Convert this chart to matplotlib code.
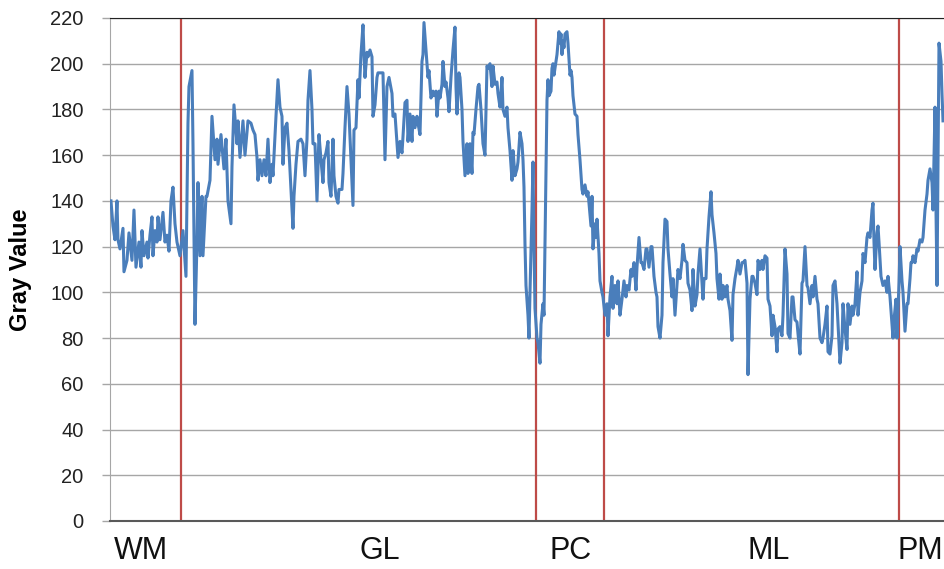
import matplotlib
matplotlib.use("Agg")
import matplotlib.pyplot as plt
import matplotlib.transforms as mtransforms

# profile position (pixels along the line) and gray value
position = [
    1, 3, 5, 7, 8, 10, 13, 14, 17, 19, 22, 24, 26, 29, 31, 32, 34, 37, 38, 40,
    42, 43, 45, 47, 48, 50, 53, 55, 57, 59, 61, 63, 65, 67, 70, 73, 76, 78, 79, 82,
    83, 85, 87, 88, 90, 92, 93, 96, 97, 100, 102, 105, 107, 108, 111, 114, 116, 118, 121, 122,
    124, 127, 128, 130, 133, 135, 138,
    141, 143, 145, 147, 148, 150, 152, 154, 156, 158, 160, 162, 163, 166, 168, 170, 172, 173, 175, 177,
    179, 181, 183, 184, 186, 188, 191, 193, 195, 197, 198, 200, 202, 203, 205, 207, 209, 211, 213, 214,
    216, 218, 219, 221, 223, 224, 226, 228, 229, 232, 233, 235, 237, 239, 241, 243, 244, 246, 248, 249,
    251, 253, 254, 255, 257, 258, 260, 262, 263, 265, 267, 268,
    270, 273, 275, 277, 279, 282, 283, 285, 287, 288, 290, 292, 293, 295, 297, 298, 300, 302, 303, 305,
    307, 308, 310, 312, 313, 314, 316, 318, 319, 321, 323, 324, 326, 327, 329, 330, 332, 333, 335, 336,
    338, 339, 341, 343, 345, 346, 347, 349, 350, 352, 353, 355, 357, 358, 360, 362, 363, 364, 366, 368,
    369, 371, 373, 375, 377, 378, 380, 382, 383, 385, 387, 388, 390, 392, 393, 395, 397, 398, 400, 402,
    403, 405, 407, 408, 410, 412, 413, 414, 415, 416, 418, 419,
    420, 422, 423, 424, 425, 427, 428, 430, 431, 433, 434, 435, 436, 437, 438, 439, 441, 442, 443, 444,
    446, 447, 449, 450, 451, 452, 453, 454, 455, 457, 458, 459, 460, 461, 462, 463, 465, 467, 468, 470,
    472, 473, 475, 477, 478, 479, 481, 482, 483, 485, 486, 487, 489, 490, 492, 493, 495, 497, 498, 500,
    502, 503, 505, 507, 508, 510, 512, 514, 516, 517, 519, 521, 522, 524, 526, 527, 529, 531, 532, 534,
    536, 537, 539, 541, 542, 544, 546, 547, 548,
    550, 552, 553, 555, 557, 558, 560, 562, 563, 565, 567, 568, 570, 572, 573, 575, 577, 578, 580, 582,
    583, 585, 587, 588, 590, 592, 593, 594, 596, 597, 599, 601, 602, 604, 606, 607, 609, 610, 612, 613,
    615, 617, 618, 620, 622, 623, 625, 627, 628, 630, 632, 633, 635, 637, 638, 640, 642, 643, 645, 647,
    648, 650, 652, 653, 655, 657, 658, 660, 662, 663, 665, 667, 668, 670, 672, 673, 675, 677, 678, 680,
    682, 683, 685, 687, 688,
    690, 692, 693, 695, 697, 698, 700, 702, 703, 705, 707, 708, 710, 712, 713, 715, 717, 718, 720, 722,
    723, 725, 727, 728, 730, 732, 733, 735, 737, 738, 740, 742, 743, 745, 747, 748, 750, 752, 753, 755,
    757, 758, 760, 762, 763, 764, 765, 767, 768, 769, 771, 772, 773, 775, 777, 778, 780, 782, 783, 784,
    786, 787, 789, 790, 792, 793, 795, 797, 798, 800, 801, 802, 803, 805, 807, 808, 810, 812, 813, 815,
    817, 818, 820, 822, 823, 824, 825, 826, 827, 828, 829, 831, 832, 833,
]
gray_value = [
    140, 129, 123, 140, 123, 119, 128, 109, 114, 126, 114, 136, 111, 122, 111, 127, 116, 122, 115, 125,
    133, 116, 127, 122, 133, 123, 135, 122, 125, 118, 140, 146, 130, 122, 116, 127, 107, 174, 190, 197,
    165, 86, 122, 148, 116, 142, 116, 142, 142, 149, 177, 158, 167, 156, 169, 154, 167, 140, 130, 155,
    182, 165, 175, 159, 175, 160, 175,
    174, 171, 169, 159, 149, 158, 151, 158, 151, 167, 148, 156, 151, 177, 193, 181, 177, 156, 172, 174,
    162, 145, 128, 142, 156, 166, 167, 165, 151, 167, 184, 197, 180, 165, 165, 140, 169, 158, 148, 158,
    161, 166, 148, 142, 167, 151, 142, 139, 145, 145, 152, 172, 190, 178, 158, 138, 171, 172, 193, 185,
    204, 217, 204, 194, 205, 203, 206, 203, 177, 182, 194, 196,
    196, 196, 158, 190, 194, 187, 177, 178, 165, 159, 166, 161, 168, 183, 184, 166, 178, 166, 177, 172,
    177, 174, 169, 201, 204, 218, 206, 194, 197, 185, 188, 186, 188, 177, 188, 185, 191, 201, 190, 192,
    185, 179, 194, 206, 216, 190, 178, 196, 194, 180, 166, 151, 165, 152, 165, 152, 170, 169, 180, 190,
    191, 180, 165, 160, 199, 198, 200, 190, 199, 191, 192, 187, 181, 194, 180, 177, 181, 172, 162, 149,
    162, 151, 154, 157, 170, 165, 158, 146, 121, 103, 90, 80,
    100, 136, 157, 121, 93, 80, 78, 69, 86, 95, 90, 121, 149, 184, 193, 186, 188, 198, 200, 195,
    201, 204, 214, 209, 213, 204, 210, 207, 213, 214, 209, 202, 195, 197, 194, 186, 178, 177, 169, 158,
    145, 143, 147, 142, 144, 139, 129, 142, 119, 130, 124, 132, 117, 105, 100, 98, 90, 95, 81, 98,
    107, 93, 103, 95, 105, 90, 97, 105, 98, 103, 101, 110, 107, 113, 101, 111, 124, 113, 113, 110,
    119, 119, 111, 120, 120, 107, 100, 98, 85,
    80, 90, 113, 132, 131, 119, 108, 98, 106, 90, 103, 110, 106, 114, 121, 114, 113, 104, 101, 92,
    110, 94, 99, 108, 119, 104, 97, 106, 106, 119, 133, 144, 134, 126, 117, 106, 97, 108, 97, 103,
    98, 103, 97, 92, 79, 99, 106, 111, 114, 108, 113, 113, 114, 104, 64, 97, 107, 107, 104, 99,
    114, 110, 114, 110, 116, 115, 97, 94, 81, 90, 85, 74, 84, 85, 81, 90, 119, 108, 82, 80,
    98, 98, 88, 87, 82,
    73, 104, 105, 120, 103, 102, 95, 103, 98, 107, 97, 95, 80, 78, 80, 86, 94, 74, 73, 81,
    103, 105, 95, 86, 69, 78, 95, 84, 75, 95, 86, 94, 90, 95, 109, 90, 100, 105, 117, 113,
    124, 126, 124, 136, 139, 122, 110, 126, 129, 122, 107, 105, 103, 105, 100, 107, 98, 86, 80, 88,
    97, 80, 104, 120, 105, 100, 83, 95, 95, 106, 113, 113, 116, 113, 119, 118, 123, 122, 124, 136,
    143, 149, 154, 148, 136, 159, 181, 136, 103, 154, 209, 201, 187, 175,
]

boundaries = [71, 426, 494, 789]
region_labels = ["WM", "GL", "PC", "ML", "PM"]
label_pos = [31, 270, 461, 659, 810]

fig = plt.figure(figsize=(9.44, 5.69), dpi=100)
ax = fig.add_axes([0.1165, 0.0844, 0.8835, 0.884])

ax.plot(position, gray_value, color="#4a7ebb", linewidth=2.2, zorder=3)
for b in boundaries:
    ax.axvline(b, color="#be4b48", linewidth=1.6, zorder=2)

ax.set_xlim(0, 834)
ax.set_ylim(0, 220)
ax.set_yticks(range(0, 221, 20))
ax.set_xticks([])
ax.grid(axis="y", color="#a6a6a6", linewidth=1.0, zorder=0)
ax.set_axisbelow(True)

ax.spines["right"].set_visible(False)
ax.spines["top"].set_color("#222222")
ax.spines["left"].set_color("#a6a6a6")
ax.spines["bottom"].set_color("#595959")
ax.spines["bottom"].set_linewidth(1.5)

ax.tick_params(axis="y", length=6, width=1, color="#a6a6a6", pad=13,
               labelsize=14.5, labelcolor="#222222")
for t in ax.get_yticklabels():
    t.set_fontfamily("Liberation Sans")

ax.set_ylabel("Gray Value", fontsize=17, fontweight="bold", fontfamily="Liberation Sans")
ax.yaxis.set_label_coords(-0.094, 0.5)

trans = mtransforms.blended_transform_factory(ax.transData, ax.transAxes)
for lab, xp in zip(region_labels, label_pos):
    ax.text(xp, -0.06, lab, transform=trans, ha="center", va="center",
            fontsize=22, fontfamily="Liberation Sans", color="#111111", clip_on=False)

fig.savefig("out.png", dpi=100)
